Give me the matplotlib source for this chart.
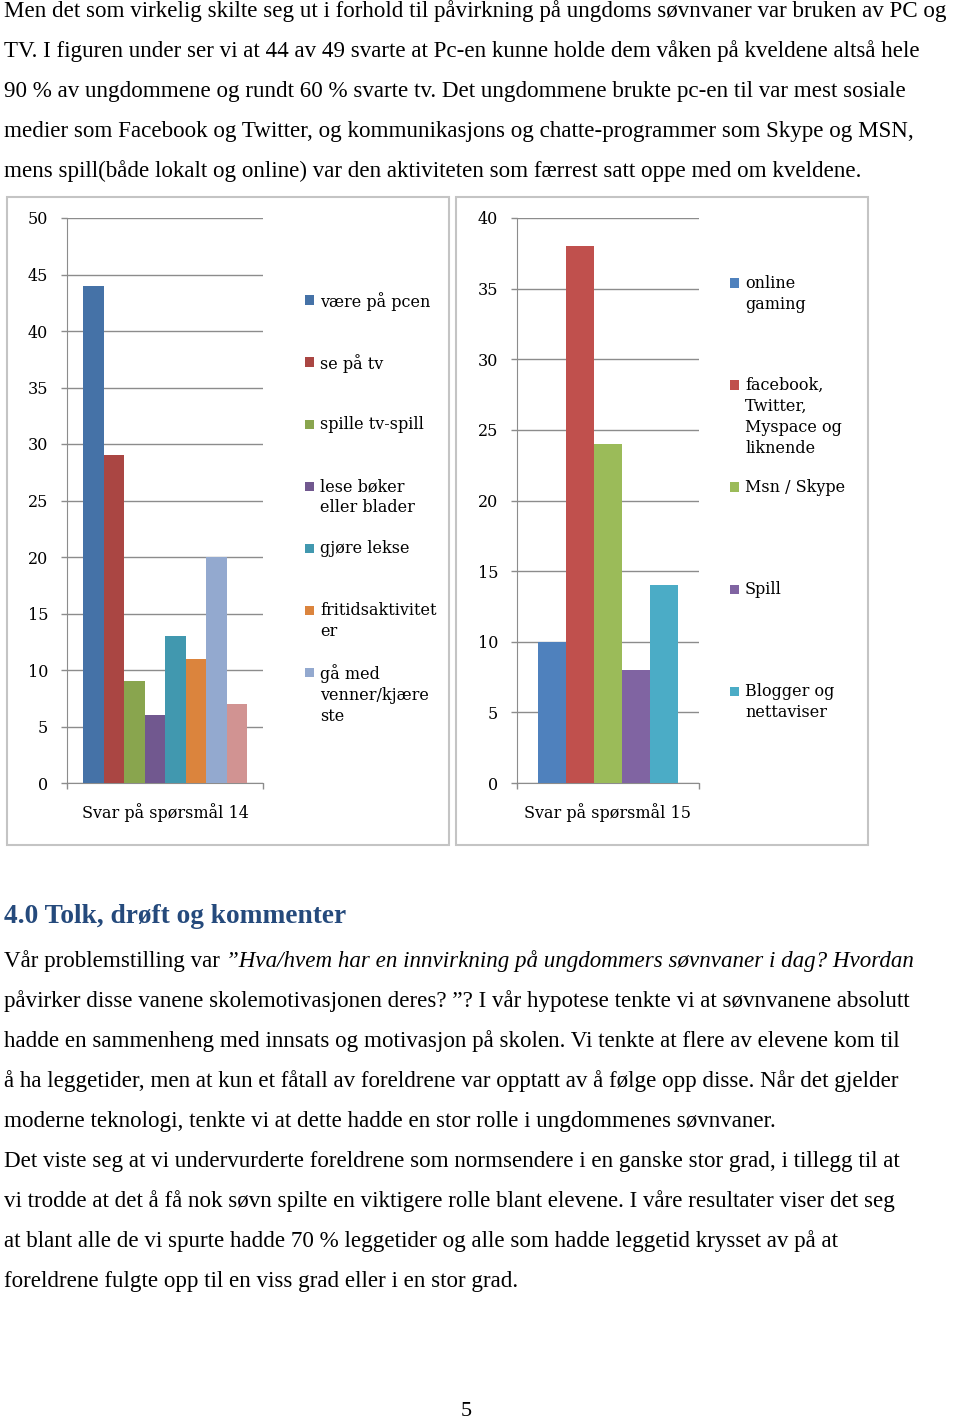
import matplotlib.pyplot as plt
from matplotlib.patches import Rectangle

W, H = 960, 1422

# ---- data ----
q14_labels = ["være på pcen", "se på tv", "spille tv-spill", "lese bøker\neller blader",
              "gjøre lekse", "fritidsaktivitet\ner", "gå med\nvenner/kjære\nste"]
q14_values = [44, 29, 9, 6, 13, 11, 20, 7]
q14_colors = ["#4572A7", "#AA4643", "#89A54E", "#71588F", "#4198AF", "#DB843D", "#93A9CF", "#D19392"]

q15_labels = ["online\ngaming", "facebook,\nTwitter,\nMyspace og\nliknende", "Msn / Skype",
              "Spill", "Blogger og\nnettaviser"]
q15_values = [10, 38, 24, 8, 14]
q15_colors = ["#4F81BD", "#C0504D", "#9BBB59", "#8064A2", "#4BACC6"]

top_lines = [
    "Men det som virkelig skilte seg ut i forhold til påvirkning på ungdoms søvnvaner var bruken av PC og",
    "TV. I figuren under ser vi at 44 av 49 svarte at Pc-en kunne holde dem våken på kveldene altså hele",
    "90 % av ungdommene og rundt 60 % svarte tv. Det ungdommene brukte pc-en til var mest sosiale",
    "medier som Facebook og Twitter, og kommunikasjons og chatte-programmer som Skype og MSN,",
    "mens spill(både lokalt og online) var den aktiviteten som færrest satt oppe med om kveldene.",
]
heading = "4.0 Tolk, drøft og kommenter"
para_first = ("Vår problemstilling var ", "”Hva/hvem har en innvirkning på ungdommers søvnvaner i dag? Hvordan")
para_lines = [
    "påvirker disse vanene skolemotivasjonen deres? ”? I vår hypotese tenkte vi at søvnvanene absolutt",
    "hadde en sammenheng med innsats og motivasjon på skolen. Vi tenkte at flere av elevene kom til",
    "å ha leggetider, men at kun et fåtall av foreldrene var opptatt av å følge opp disse. Når det gjelder",
    "moderne teknologi, tenkte vi at dette hadde en stor rolle i ungdommenes søvnvaner.",
    "Det viste seg at vi undervurderte foreldrene som normsendere i en ganske stor grad, i tillegg til at",
    "vi trodde at det å få nok søvn spilte en viktigere rolle blant elevene. I våre resultater viser det seg",
    "at blant alle de vi spurte hadde 70 % leggetider og alle som hadde leggetid krysset av på at",
    "foreldrene fulgte opp til en viss grad eller i en stor grad.",
]

BODY = "Liberation Serif"
CHART = "DejaVu Serif"
body_size = 16.6
chart_size = 11.5


def fx(x):
    return x / W


def fy(y):
    return 1 - y / H


fig = plt.figure(figsize=(W / 100, H / 100), dpi=100)

# page text above charts
for i, line in enumerate(top_lines):
    fig.text(fx(4), fy(17 + 40 * i), line, family=BODY, fontsize=body_size, va="baseline")

# chart frames
for x0, x1 in [(7, 449), (456, 868)]:
    fig.add_artist(Rectangle((fx(x0), fy(845)), fx(x1) - fx(x0), (845 - 197) / H,
                             transform=fig.transFigure, fill=False, ec="#C4C4C4", lw=1.5))


def draw_chart(left, right, values, colors, labels, ymax, bar_l, bar_r, title,
               leg_x, leg_y0, leg_step):
    ax = fig.add_axes([fx(left), fy(783), (right - left) / W, (783 - 218) / H])
    n = len(values)
    xs = list(range(n))
    ax.bar(xs, values, width=1.0, color=colors, zorder=3)
    unit = (bar_r - bar_l) / n
    lo = -0.5 - (bar_l - left) / unit
    hi = n - 0.5 + (right - bar_r) / unit
    ax.set_xlim(lo, hi)
    ax.set_ylim(0, ymax)
    ax.set_yticks(range(0, ymax + 1, 5))
    ax.set_xticks([lo, hi])
    ax.set_xticklabels([])
    ax.yaxis.grid(True, color="#8C8C8C", lw=1.0)
    ax.set_axisbelow(True)
    for s in ["top", "right"]:
        ax.spines[s].set_visible(False)
    for s in ["left", "bottom"]:
        ax.spines[s].set_color("#8C8C8C")
    ax.tick_params(colors="#8C8C8C", length=4.5, width=1.0, labelcolor="black",
                   labelsize=chart_size, pad=9)
    for t in ax.get_yticklabels():
        t.set_family(CHART)
    ax.text(0.5, -0.052, title, transform=ax.transAxes, ha="center", va="center",
            family=CHART, fontsize=chart_size)
    # legend
    for i, (lab, c) in enumerate(zip(labels, colors)):
        yc = leg_y0 + leg_step * i
        fig.add_artist(Rectangle((fx(leg_x - 15), fy(yc + 4.5)), 9 / W, 9 / H,
                                 transform=fig.transFigure, color=c, lw=0))
        fig.text(fx(leg_x), fy(yc - 8), lab, family=CHART, fontsize=chart_size,
                 va="top", linespacing=1.32)
    return ax


draw_chart(67, 263, q14_values, q14_colors, q14_labels, 50, 83, 247,
           "Svar på spørsmål 14", 320, 300, 62)
draw_chart(517, 699, q15_values, q15_colors, q15_labels, 40, 538, 678,
           "Svar på spørsmål 15", 745, 283, 102)

# heading and paragraph
fig.text(fx(4), fy(923), heading, family=BODY, fontsize=19.7, weight="bold",
         color="#254A7C", va="baseline")

t1 = fig.text(fx(4), fy(967), para_first[0], family=BODY, fontsize=body_size, va="baseline")
fig.canvas.draw()
bb = t1.get_window_extent()
fig.text(bb.x1 / W, fy(967), para_first[1], family=BODY, fontsize=body_size,
         style="italic", va="baseline")
for i, line in enumerate(para_lines):
    fig.text(fx(4), fy(1007 + 40 * i), line, family=BODY, fontsize=body_size, va="baseline")

fig.text(fx(466), fy(1412), "5", family=BODY, fontsize=16, ha="center", va="center")

fig.savefig("out.png", dpi=100)
